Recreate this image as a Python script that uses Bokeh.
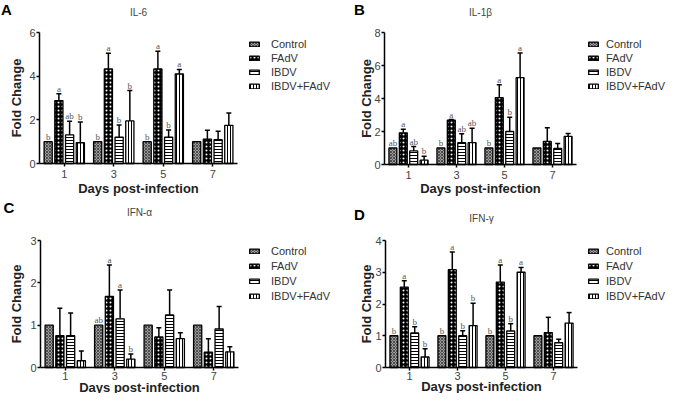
import math
from bokeh.plotting import figure
from bokeh.models import (ColumnDataSource, Whisker, TeeHead, LabelSet, Label,
                          Legend, LegendItem, FixedTicker, Range1d)
from bokeh.layouts import row, column
from bokeh.embed import file_html
from bokeh.resources import INLINE

FONT = "Liberation Sans"

days = [1, 3, 5, 7]
groups = ["Control", "FAdV", "IBDV", "IBDV+FAdV"]

# ---- Panel A: IL-6 ----
il6_control = [1.0, 1.0, 1.0, 1.0]
il6_fadv = [2.88, 4.33, 4.33, 1.12]
il6_ibdv = [1.31, 1.21, 1.21, 1.09]
il6_both = [0.95, 1.95, 4.10, 1.75]
il6_fadv_err = [0.32, 0.72, 0.81, 0.40]
il6_ibdv_err = [0.63, 0.55, 0.32, 0.39]
il6_both_err = [0.95, 1.39, 0.21, 0.56]
il6_letters = [["b", "b", "b", ""], ["a", "a", "a", ""],
               ["ab", "b", "b", ""], ["b", "b", "a", ""]]

# ---- Panel B: IL-1β ----
il1b_control = [1.0, 1.0, 1.0, 1.0]
il1b_fadv = [1.92, 2.69, 4.05, 1.40]
il1b_ibdv = [0.82, 1.32, 2.00, 0.97]
il1b_both = [0.26, 1.32, 5.26, 1.70]
il1b_fadv_err = [0.21, 0.03, 0.79, 0.83]
il1b_ibdv_err = [0.27, 0.54, 0.87, 0.31]
il1b_both_err = [0.24, 0.88, 1.50, 0.18]
il1b_letters = [["ab", "b", "b", ""], ["a", "a", "a", ""],
                ["ab", "ab", "b", ""], ["b", "ab", "a", ""]]

# ---- Panel C: IFN-α ----
ifna_control = [1.0, 1.0, 1.0, 1.0]
ifna_fadv = [0.75, 1.68, 0.72, 0.36]
ifna_ibdv = [0.75, 1.15, 1.24, 0.91]
ifna_both = [0.16, 0.20, 0.68, 0.37]
ifna_fadv_err = [0.65, 0.74, 0.22, 0.32]
ifna_ibdv_err = [0.54, 0.68, 0.59, 0.53]
ifna_both_err = [0.23, 0.12, 0.14, 0.12]
ifna_letters = [["", "ab", "", ""], ["", "a", "", ""],
                ["", "a", "", ""], ["", "b", "", ""]]

# ---- Panel D: IFN-γ ----
ifng_control = [1.0, 1.0, 1.0, 1.0]
ifng_fadv = [2.53, 3.08, 2.69, 1.10]
ifng_ibdv = [1.09, 1.00, 1.15, 0.78]
ifng_both = [0.33, 1.32, 3.00, 1.40]
ifng_fadv_err = [0.20, 0.56, 0.54, 0.48]
ifng_ibdv_err = [0.19, 0.16, 0.23, 0.11]
ifng_both_err = [0.26, 0.70, 0.15, 0.33]
ifng_letters = [["b", "b", "b", ""], ["a", "a", "a", ""],
                ["b", "b", "b", ""], ["b", "b", "a", ""]]

offsets = [-0.65, -0.217, 0.217, 0.65]
bar_w = 0.33
XMAX = 8

styles = [
    dict(fill_color="#9a9a9a", hatch_pattern="diagonal_cross", hatch_color="#3a3a3a",
         hatch_scale=3, hatch_weight=0.8),
    dict(fill_color="black", hatch_pattern="dot", hatch_color="white",
         hatch_scale=4, hatch_weight=1),
    dict(fill_color="white", hatch_pattern="horizontal_line", hatch_color="black",
         hatch_scale=3, hatch_weight=1),
    dict(fill_color="white", hatch_pattern="vertical_line", hatch_color="black",
         hatch_scale=3, hatch_weight=1),
]


def panel(letter, name, means, errs, letters, ymax, ystep, W, H, ox, oy, fh, sx,
          let_x, let_dy, title_dy, xlab_dy, ylab_dx, tick_standoff,
          leg_x, leg_top, leg_h, leg_standoff):
    sy = fh / ymax
    p = figure(width=W, height=H, title=None,
               x_range=Range1d(-ox / sx, (W - ox) / sx),
               y_range=Range1d(-(H - oy) / sy, oy / sy),
               output_backend="svg", toolbar_location=None, min_border=0)
    p.outline_line_color = None
    p.xgrid.visible = False
    p.ygrid.visible = False
    p.background_fill_color = "white"
    p.border_fill_color = "white"

    items = []
    for gi, g in enumerate(groups):
        xs = [d + offsets[gi] for d in days]
        m = means[gi]
        e = errs[gi]
        up = [a + b for a, b in zip(m, e)]
        src = ColumnDataSource(dict(x=xs, top=m, upper=up, lab=letters[gi]))
        r = p.vbar(x="x", top="top", bottom=0, width=bar_w, source=src,
                   line_color="black", line_width=1.3, **styles[gi])
        items.append(LegendItem(label=g, renderers=[r]))
        if any(v > 0 for v in e):
            wsrc = ColumnDataSource(dict(x=xs, lower=m, upper=up))
            wk = Whisker(base="x", lower="lower", upper="upper", source=wsrc,
                         line_color="black", line_width=1.5, lower_head=None,
                         upper_head=TeeHead(size=5, line_color="black", line_width=1.5))
            p.add_layout(wk)
        ls = LabelSet(x="x", y="upper", text="lab", source=src, text_align="center",
                      text_baseline="alphabetic", y_offset=2, text_font=FONT,
                      text_font_size="9px", text_color="#555555")
        p.add_layout(ls)

    for ax in (p.xaxis[0], p.yaxis[0]):
        ax.fixed_location = 0
        ax.axis_line_color = "black"
        ax.axis_line_width = 1.5
        ax.major_tick_line_color = "black"
        ax.major_tick_line_width = 1.5
        ax.major_tick_in = 0
        ax.major_tick_out = 3
        ax.minor_tick_line_color = None
        ax.major_label_text_font = FONT
        ax.major_label_text_font_size = "11px"
        ax.major_label_text_color = "#444444"
    p.xaxis.bounds = (0, XMAX)
    p.yaxis.bounds = (0, ymax)
    p.xaxis.ticker = FixedTicker(ticks=days)
    p.yaxis.ticker = FixedTicker(ticks=list(range(0, ymax + 1, ystep)))
    p.xaxis.major_label_standoff = tick_standoff
    p.yaxis.major_label_standoff = 1

    txt = dict(text_font=FONT)
    # axis titles
    p.add_layout(Label(x=XMAX / 2, y=-xlab_dy / sy, text="Days post-infection",
                       text_align="center", text_baseline="middle",
                       text_font_size="13px", text_font_style="bold",
                       text_color="#222222", **txt))
    p.add_layout(Label(x=ylab_dx / sx, y=ymax / 2, text="Fold Change",
                       angle=math.pi / 2, text_align="center", text_baseline="middle",
                       text_font_size="13px", text_font_style="bold",
                       text_color="#222222", **txt))
    # gene title
    p.add_layout(Label(x=XMAX / 2, y=ymax + title_dy / sy, text=name,
                       text_align="center", text_baseline="middle",
                       text_font_size="10px", text_color="#444444", **txt))
    # panel letter
    p.add_layout(Label(x=(let_x - ox) / sx, y=ymax + let_dy / sy, text=letter,
                       text_align="left", text_baseline="middle",
                       text_font_size="15px", text_font_style="bold",
                       text_color="black", **txt))

    leg_height = 4 + 4 * leg_h
    leg = Legend(items=items, location=(leg_x - 2, H - leg_top - leg_height),
                 glyph_width=12, glyph_height=6, label_standoff=leg_standoff,
                 label_height=leg_h, spacing=0, padding=2, margin=0,
                 label_text_font=FONT, label_text_font_size="11px",
                 label_text_color="#333333", border_line_color=None,
                 background_fill_alpha=0)
    p.add_layout(leg)
    return p


pA = panel("A", "IL-6",
           [il6_control, il6_fadv, il6_ibdv, il6_both],
           [[0, 0, 0, 0], il6_fadv_err, il6_ibdv_err, il6_both_err],
           il6_letters, 6, 2, 353, 196, 39, 163, 131, 24.75,
           0.5, 23, 20.5, 24.5, -23, 3, 250, 32.7, 14, 11)
pB = panel("B", "IL-1β",
           [il1b_control, il1b_fadv, il1b_ibdv, il1b_both],
           [[0, 0, 0, 0], il1b_fadv_err, il1b_ibdv_err, il1b_both_err],
           il1b_letters, 8, 2, 316, 196, 31, 164, 132, 24.0,
           0.5, 23.5, 20.5, 24, -18, 3, 236, 32.7, 14, 7)
pC = panel("C", "IFN-α",
           [ifna_control, ifna_fadv, ifna_ibdv, ifna_both],
           [[0, 0, 0, 0], ifna_fadv_err, ifna_ibdv_err, ifna_both_err],
           ifna_letters, 3, 1, 353, 197, 40, 171, 127, 24.75,
           3, 33, 28.5, 19.5, -24, 1, 250, 43.5, 15, 11)
pD = panel("D", "IFN-γ",
           [ifng_control, ifng_fadv, ifng_ibdv, ifng_both],
           [[0, 0, 0, 0], ifng_fadv_err, ifng_ibdv_err, ifng_both_err],
           ifng_letters, 4, 1, 316, 197, 32, 171, 127, 24.0,
           0.5, 26, 22.5, 19, -19, 1, 236, 43.5, 15, 7)

layout = column(row(pA, pB), row(pC, pD))

with open("out.html", "w") as f:
    f.write(file_html(layout, INLINE))
